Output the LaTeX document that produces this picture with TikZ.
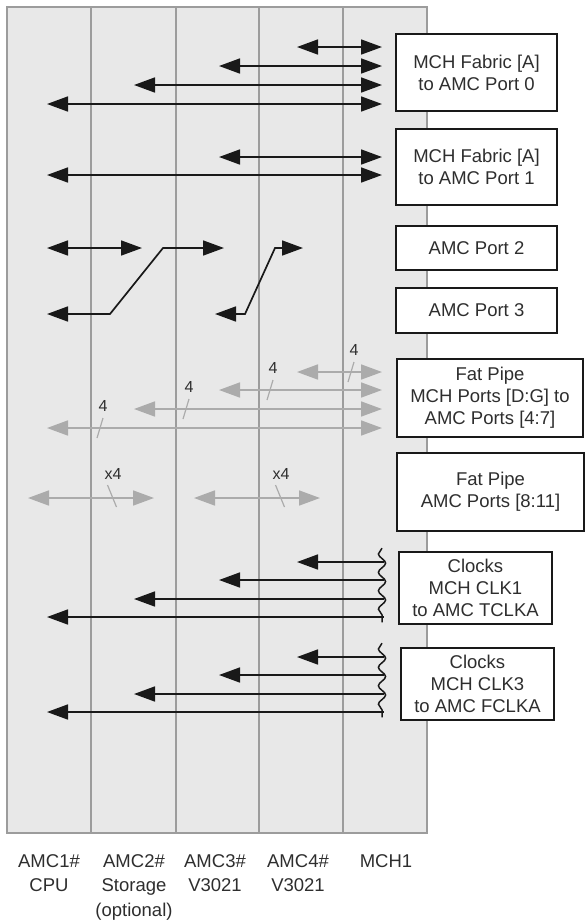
\documentclass[tikz,border=0pt]{standalone}
\usepackage{fontspec}
\setmainfont{Liberation Sans}
\usepackage{tikz}
\usetikzlibrary{positioning, arrows.meta, calc, decorations.pathmorphing}
\definecolor{panelgray}{HTML}{E8E8E8}
\definecolor{rulegray}{HTML}{9C9C9C}
\definecolor{pipegray}{HTML}{ABABAB}
\definecolor{textgray}{HTML}{2E2E2E}

\tikzset{
    portbox/.style={draw=black!90, line width=1.8pt, fill=white, text=textgray, align=center,
                    minimum width=161pt, inner sep=0pt, font=\fontsize{18.5}{22}\selectfont},
    fabriclink/.style={line width=1.7pt, draw=black!90, <->},
    pipelink/.style={line width=1.7pt, draw=pipegray, <->},
    clocklink/.style={line width=1.7pt, draw=black!90, <-},
    clockbreak/.style={line width=1.5pt, draw=black!90, decorate,
                       decoration={snake, segment length=18.4pt, amplitude=-3.6pt}},
    lanecount/.style={text=textgray, inner sep=0pt, font=\fontsize{16}{18}\selectfont},
    slotlabel/.style={text=textgray, align=center, inner sep=0pt, anchor=north,
                      font=\fontsize{18.5}{24.5}\selectfont}
}

\begin{document}
\begin{tikzpicture}[x=1pt, y=-1pt, >={Triangle[length=21pt, width=15pt]}]
    \useasboundingbox (0,0) rectangle (585,922);

    % backplane slots
    \draw[draw=rulegray, fill=panelgray, line width=1.3pt] (7,7) rectangle (427,833);
    \foreach \x in {91,176,259,343}
        \draw[rulegray, line width=1.3pt] (\x,7) -- (\x,833);

    \node[slotlabel] (amc1) at (49,854) {AMC1\#\\CPU};
    \node[slotlabel] (amc2) at (134,854) {AMC2\#\\Storage\\(optional)};
    \node[slotlabel] (amc3) at (215,854) {AMC3\#\\V3021};
    \node[slotlabel] (amc4) at (298,854) {AMC4\#\\V3021};
    \node[slotlabel] (mch1) at (386,854) {MCH1};

    % port boxes
    \node[portbox, minimum height=77pt] (port0) at (476.5,72.5) {MCH Fabric [A]\\to AMC Port 0};
    \node[portbox, minimum height=76pt] (port1) at (476.5,167) {MCH Fabric [A]\\to AMC Port 1};
    \node[portbox, minimum height=44pt] (port2) at (476.5,248) {AMC Port 2};
    \node[portbox, minimum height=45pt] (port3) at (476.5,310.5) {AMC Port 3};
    \node[portbox, minimum width=186pt, minimum height=78pt] (fatpipeDG) at (490,398)
        {Fat Pipe\\MCH Ports [D:G] to\\AMC Ports [4:7]};
    \node[portbox, minimum width=187pt, minimum height=78pt] (fatpipe8) at (490.5,492)
        {Fat Pipe\\AMC Ports [8:11]};
    \node[portbox, minimum width=153pt, minimum height=72pt] (clk1) at (475.5,588)
        {Clocks\\MCH CLK1\\to AMC TCLKA};
    \node[portbox, minimum width=153pt, minimum height=72pt] (clk3) at (477.5,684)
        {Clocks\\MCH CLK3\\to AMC FCLKA};

    % fabric A
    \foreach \y/\l in {47/297, 66/219, 85/134, 104/47, 157/219, 175/47}
        \draw[fabriclink] (\l,\y) -- (382,\y);

    % ports 2 and 3
    \draw[fabriclink] (47,248) -- (142,248);
    \draw[fabriclink] (47,314) -- (110,314) -- (163,248) -- (224,248);
    \draw[fabriclink] (215,314) -- (245,314) -- (275,248) -- (303,248);

    % fat pipes
    \foreach \y/\l/\c in {372/297/351, 390/219/270, 409/134/186, 428/47/100} {
        \draw[pipelink] (\l,\y) -- (382,\y);
        \draw[pipegray, line width=1.2pt] (\c-3,\y+10) -- (\c+3,\y-10);
        \node[lanecount] (n\c) at (\c+3,\y-22) {4};
    }
    \foreach \l/\c in {28/112, 194/280} {
        \draw[pipelink] (\l,498) -- (\l+126,498);
        \draw[pipegray, line width=1.2pt] (\c-4.5,485) -- (\c+4.5,507);
        \node[lanecount] (x\c) at (\c+1,474) {x4};
    }

    % clocks
    \foreach \y/\l in {562/297, 580/219, 599/134, 617/47, 657/297, 675/219, 694/134, 712/47}
        \draw[clocklink] (\l,\y) -- (384,\y);
    \draw[clockbreak] (382,548.2) -- (382,622.3);
    \draw[clockbreak] (382,643.2) -- (382,717.3);
\end{tikzpicture}
\end{document}
